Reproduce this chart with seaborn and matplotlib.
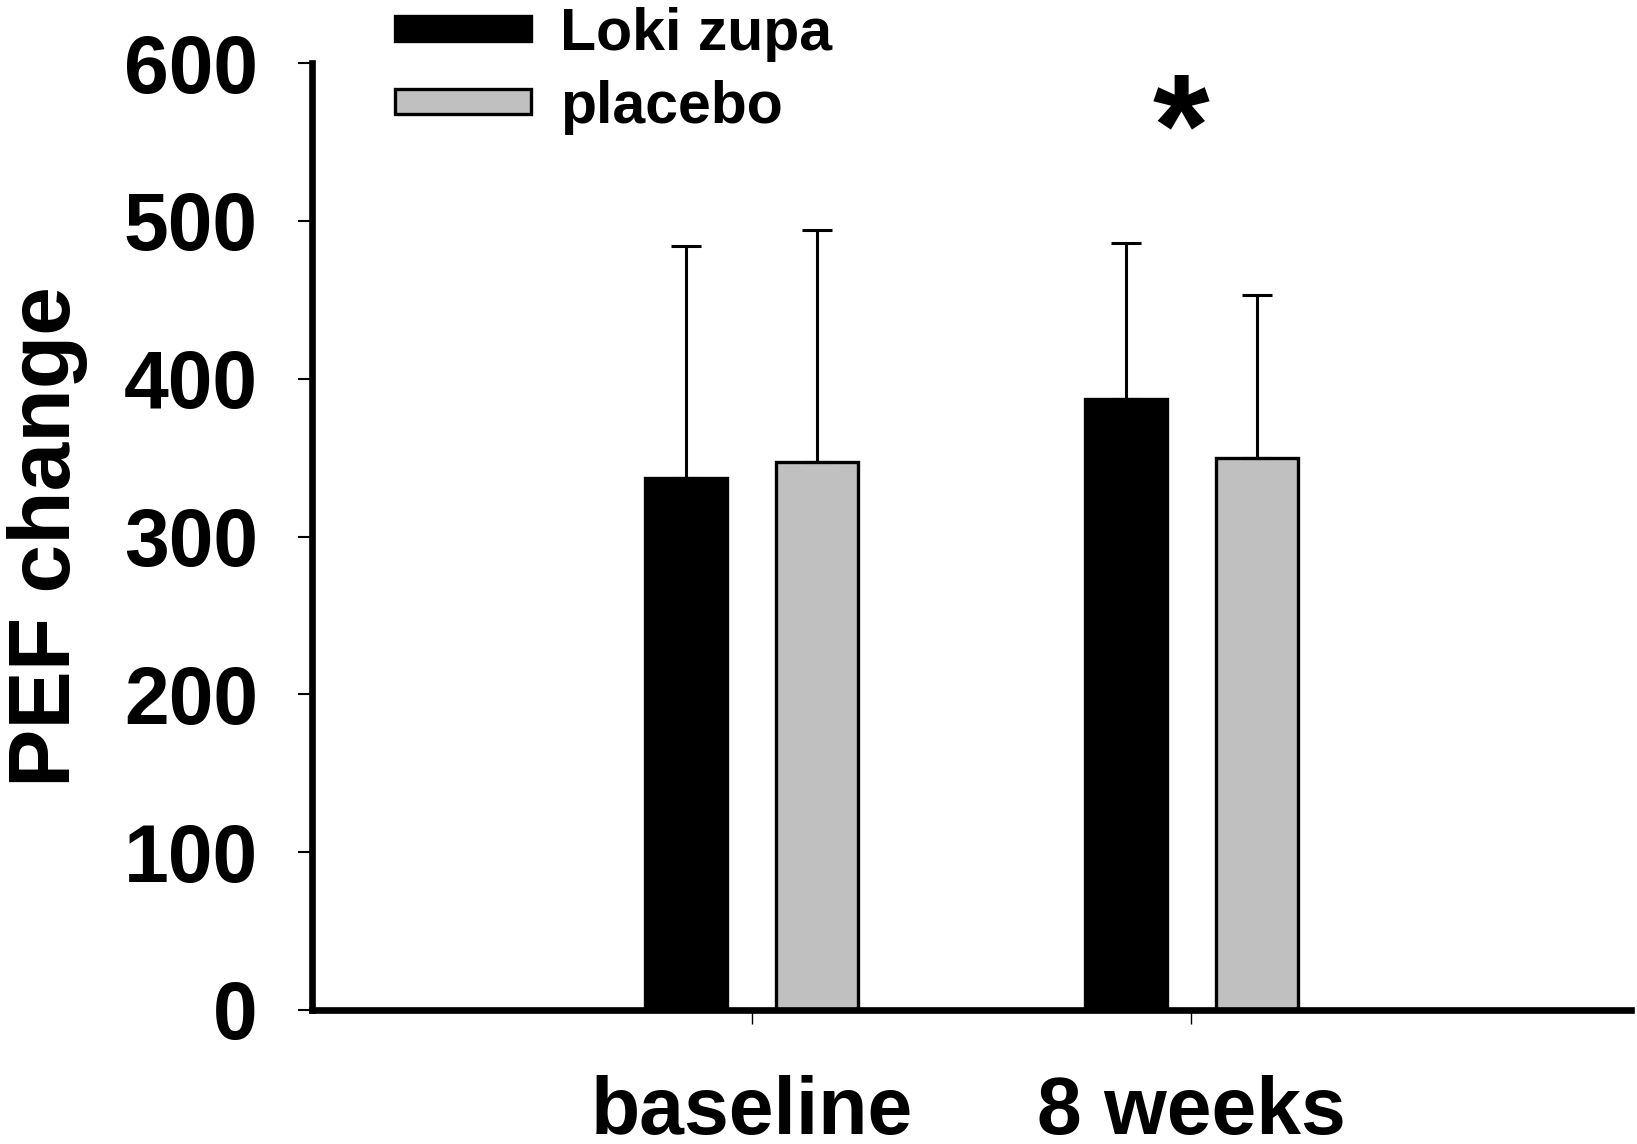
import numpy as np
import pandas as pd
import matplotlib
matplotlib.use("Agg")
import matplotlib.pyplot as plt
import seaborn as sns

# ---- data ----
categories = ["baseline", "8 weeks"]
groups = ["Loki zupa", "placebo"]
loki_means = [337, 387]
placebo_means = [347, 350]
loki_err = [147, 99]       # upper error only
placebo_err = [147, 103]
y_ticks = [0, 100, 200, 300, 400, 500, 600]
bar_colors = ["#000000", "#c0c0c0"]

sns.set_style("ticks")
plt.rcParams['font.family'] = ['Liberation Sans', 'DejaVu Sans']
plt.rcParams['font.weight'] = 'bold'
for k in ['text.color', 'axes.labelcolor', 'xtick.color', 'ytick.color', 'axes.edgecolor']:
    plt.rcParams[k] = 'black'

df = pd.DataFrame({
    "time": categories * 2,
    "group": [groups[0]] * len(categories) + [groups[1]] * len(categories),
    "value": loki_means + placebo_means,
})

fig = plt.figure(figsize=(16.37, 11.44), dpi=100)
ax = fig.add_axes([312 / 1637, 1 - 1010 / 1144, (1631 - 312) / 1637, (1010 - 63) / 1144])

sns.barplot(data=df, x="time", y="value", hue="group", order=categories,
            hue_order=groups, palette=bar_colors, width=0.596, gap=0.374,
            errorbar=None, edgecolor="black", linewidth=2.4, ax=ax)

for cont, m, e in zip(ax.containers, [loki_means, placebo_means], [loki_err, placebo_err]):
    xs = [p.get_x() + p.get_width() / 2 for p in cont]
    ax.errorbar(xs, m, yerr=[np.zeros(len(e)), e], fmt='none', ecolor='black',
                elinewidth=2.2, capsize=10.8, capthick=2.2, zorder=1)

ax.set_xlim(-1, 2)
ax.set_ylim(0, 600)
ax.set_yticks(y_ticks)
sns.despine(ax=ax)
for s in ["left", "bottom"]:
    ax.spines[s].set_linewidth(4.8)
    ax.spines[s].set_color('black')
ax.tick_params(axis='y', length=10, width=1.5, pad=29, labelsize=58, colors='black')
ax.tick_params(axis='x', length=10, width=1.0, pad=37, labelsize=58, colors='black')
ax.set_xlabel("")
ax.set_ylabel("PEF change", fontsize=63, fontweight='bold', labelpad=26, color='black')

ax.text(0.976, 529, "*", ha='center', va='baseline', fontsize=105, fontweight='bold',
        color='black')

ax.legend(loc='upper left', bbox_to_anchor=(395 / 1637, 1 - 7 / 1144),
          bbox_transform=fig.transFigure, frameon=False, fontsize=42.5,
          handlelength=2.3, handleheight=0.26, handletextpad=0.5,
          labelspacing=0.3, borderpad=0, borderaxespad=0)

fig.savefig("out.png", dpi=100)
